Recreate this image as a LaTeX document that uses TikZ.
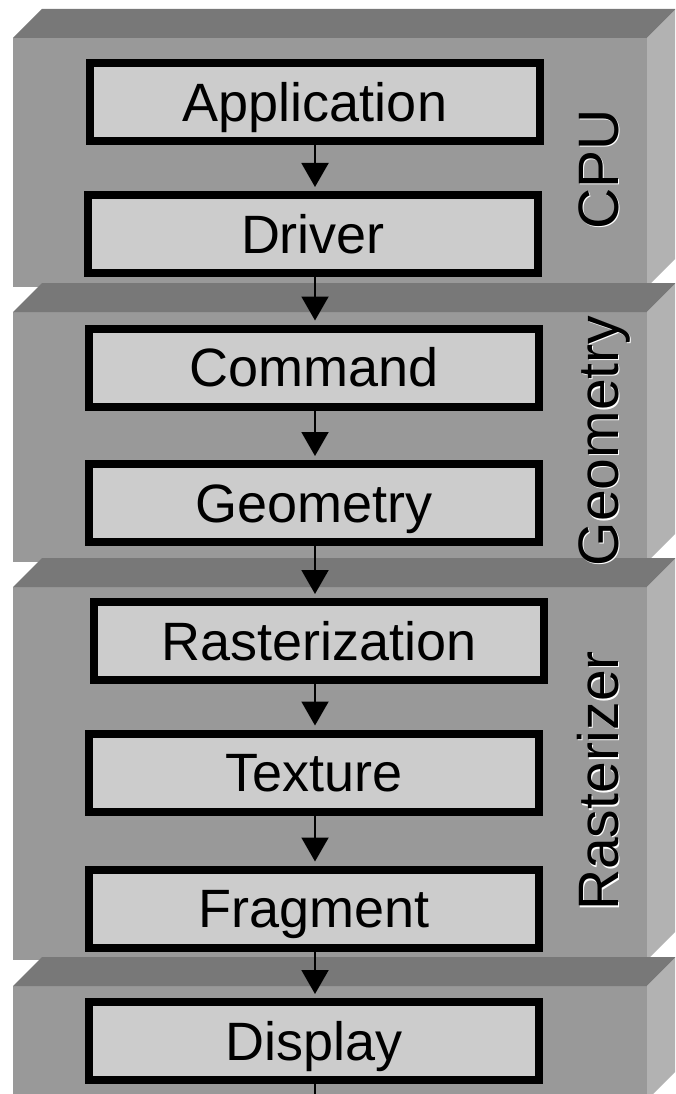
\documentclass[tikz,border=0pt]{standalone}
\usepackage{fontspec}
\setmainfont{Liberation Sans}
\usetikzlibrary{arrows.meta}
\definecolor{slabtop}{gray}{0.47}
\definecolor{slabfront}{gray}{0.60}
\definecolor{slabside}{gray}{0.70}
\definecolor{stagefill}{gray}{0.80}

% one hardware tier: front face, top face and right side face
\newcommand{\tierslab}[2]{%
  \fill[slabfront] (13,#1) rectangle (647,#2);
  \fill[slabtop] (13,#1) -- (647,#1) -- (676,#1-29) -- (42,#1-29) -- cycle;
  \fill[slabside] (647,#1) -- (676,#1-29) -- (676,#2-29) -- (647,#2) -- cycle;
}

\begin{document}
\begin{tikzpicture}[x=1pt,y=-1pt,
  stagebox/.style={draw=black, line width=8pt, fill=stagefill,
    minimum width=450pt, minimum height=78pt, inner sep=0pt,
    font=\fontsize{54}{60}\selectfont, text height=38.7pt, text depth=0pt},
  flow/.style={line width=2pt, -{Triangle[width=27pt,length=24pt]}, shorten >=4pt},
  tier/.style={rotate=90, anchor=base, inner sep=0pt,
    font=\fontsize{57}{64}\selectfont},
  tierglow/.style={tier, text=white}
]
\useasboundingbox (0,0) rectangle (675,1094);
\clip (0,0) rectangle (675,1094);
\fill[white] (0,0) rectangle (675,1094);

% tiers, front top and front bottom
\tierslab{38}{287}
\tierslab{312}{562}
\tierslab{587}{960}
\tierslab{986}{1100}

% pipeline stages
\node[stagebox] (app)  at (315,102)   {Application};
\node[stagebox] (drv)  at (313,234)   {Driver};
\node[stagebox] (cmd)  at (314,367.5) {Command};
\node[stagebox] (geo)  at (314,503)   {Geometry};
\node[stagebox] (ras)  at (319,641)   {Rasterization};
\node[stagebox] (tex)  at (314,772.5) {Texture};
\node[stagebox] (frag) at (314,908.5) {Fragment};
\node[stagebox] (disp) at (314,1041)  {Display};

% data flow along a common vertical axis
\coordinate (axis) at (315,0);
\coordinate (exit) at (315,1100);
\draw[flow] (app.south -| axis)  -- (drv.north -| axis);
\draw[flow] (drv.south -| axis)  -- (cmd.north -| axis);
\draw[flow] (cmd.south -| axis)  -- (geo.north -| axis);
\draw[flow] (geo.south -| axis)  -- (ras.north -| axis);
\draw[flow] (ras.south -| axis)  -- (tex.north -| axis);
\draw[flow] (tex.south -| axis)  -- (frag.north -| axis);
\draw[flow] (frag.south -| axis) -- (disp.north -| axis);
\draw[line width=2pt] (disp.south -| axis) -- (exit);

% engraved tier names
\node[tierglow] (cpuglow) at (619.5,170.5) {CPU};
\node[tier]     (cpu)     at (618,169)     {CPU};
\node[tierglow] (geoglow) at (619.5,442.5) {Geometry};
\node[tier]     (geolbl)  at (618,441)     {Geometry};
\node[tierglow] (rasglow) at (619.5,782.5) {Rasterizer};
\node[tier]     (raslbl)  at (618,781)     {Rasterizer};
\end{tikzpicture}
\end{document}
